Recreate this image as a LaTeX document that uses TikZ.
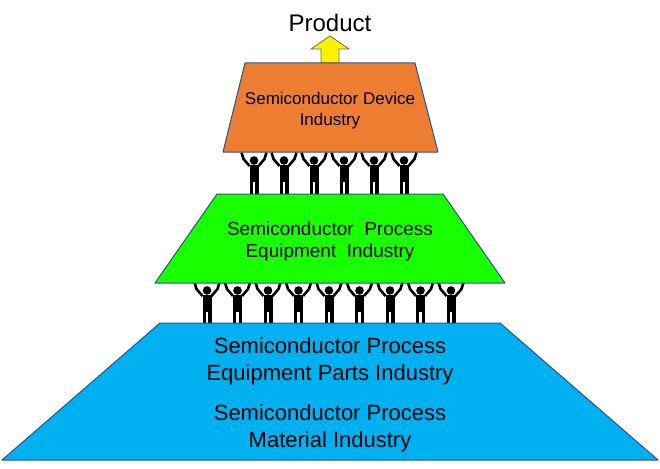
\documentclass[tikz,border=0pt]{standalone}
\usepackage{fontspec}
\setmainfont{Liberation Sans}
\usetikzlibrary{arrows,shapes,positioning}
\definecolor{devorange}{RGB}{237,125,49}
\definecolor{equipgreen}{RGB}{24,255,0}
\definecolor{matblue}{RGB}{0,176,240}
\definecolor{slabline}{RGB}{47,82,143}
\definecolor{arrowline}{RGB}{110,110,90}

\begin{document}
\begin{tikzpicture}[x=1pt,y=-1pt,
    slab/.style={draw=slabline, line width=1pt, line join=round},
    slabtext/.style={align=center, inner sep=0pt, anchor=base},
    lifter/.pic={
        \fill [black] (0,8.5) circle (4.3);
        \fill [black] (-4.5,12.5) rectangle (4.5,30);
        \fill [black] (-4.5,30) rectangle (-1.1,41.5);
        \fill [black] (1.1,30) rectangle (4.5,41.5);
        \draw [black, line width=2.6pt, line join=round] (-12.5,0.5) -- (-10.5,7) -- (-4.5,14);
        \draw [black, line width=2.6pt, line join=round] (12.5,0.5) -- (10.5,7) -- (4.5,14);
    }]
    \useasboundingbox (0,0) rectangle (660,468);
    \foreach \i in {0,...,5}
        \pic at (254+30*\i,152) {lifter};
    \foreach \i in {0,...,8}
        \pic at (207+30.5*\i,282) {lifter};
    \draw [fill=yellow, draw=arrowline, line width=0.8pt, line join=miter] (321,63) -- (321,49) -- (311,49) -- (330,36) -- (349,49) -- (339,49) -- (339,63) -- cycle;
    \draw [slab, fill=matblue] (160,323) -- (500,323) -- (658,460) -- (2,460) -- cycle;
    \draw [slab, fill=equipgreen] (217,194) -- (443,194) -- (505,283) -- (155,283) -- cycle;
    \draw [slab, fill=devorange] (245,63) -- (415,63) -- (438,152) -- (223,152) -- cycle;
    \node [slabtext, font=\fontsize{24}{28}\selectfont] (product) at (330,32) {Product};
    \node [slabtext, font=\fontsize{17}{21}\selectfont] (device) at (330,125) {Semiconductor Device\\Industry};
    \node [slabtext, font=\fontsize{19}{22}\selectfont] (equip) at (330,257) {Semiconductor\ \ Process\\Equipment\ \ Industry};
    \node [slabtext, font=\fontsize{22}{26.5}\selectfont] (parts) at (330,380) {Semiconductor Process\\Equipment Parts Industry};
    \node [slabtext, font=\fontsize{22}{26.5}\selectfont] (material) at (330,447) {Semiconductor Process\\Material Industry};
\end{tikzpicture}
\end{document}
